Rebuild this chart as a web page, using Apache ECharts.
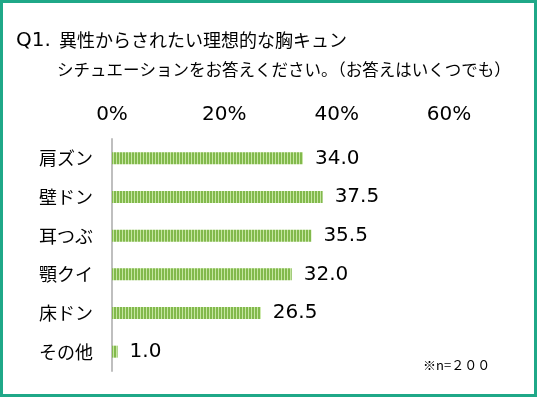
<!DOCTYPE html>
<html>
<head>
<meta charset="utf-8">
<script src="https://cdn.jsdelivr.net/npm/echarts@6/dist/echarts.min.js"></script>
<style>
  html, body { margin: 0; padding: 0; background: #fff; }
  #chart { width: 537px; height: 397px; }
</style>
</head>
<body>
<div id="chart"></div>
<script>
// データ
const categories = ['肩ズン', '壁ドン', '耳つぶ', '顎クイ', '床ドン', 'その他']
const values = [34.0, 37.5, 35.5, 32.0, 26.5, 1.0]
const tickLabels = ['0%', '20%', '40%', '60%']
const titleNo = 'Q1.'
const titleLines = ['異性からされたい理想的な胸キュン', 'シチュエーションをお答えください。（お答えはいくつでも）']
const note = '※n=２００'

const FONT = '"Noto Sans CJK JP", "Noto Sans", sans-serif'
const NUM_FONT = '"DejaVu Sans", sans-serif'

// 縦縞パターン
function stripePattern() {
  const c = document.createElement('canvas')
  c.width = 3
  c.height = 12
  const ctx = c.getContext('2d')
  ctx.fillStyle = '#82b94c'
  ctx.fillRect(0, 0, 3, 12)
  ctx.fillStyle = '#c6e6a2'
  ctx.fillRect(2, 0, 1, 12)
  return c
}

const myChart = echarts.init(document.getElementById('chart'))
const option = {
  animation: false,
  backgroundColor: '#fff',
  graphic: [
    {
      type: 'rect',
      shape: { x: 1.5, y: 1.5, width: 534, height: 394 },
      style: { fill: 'none', stroke: '#1fa888', lineWidth: 3 }
    },
    {
      type: 'text',
      left: 16,
      top: 31,
      style: { text: titleNo, font: '20px ' + NUM_FONT, fill: '#000' }
    },
    {
      type: 'text',
      left: 59,
      top: 31,
      style: { text: titleLines[0], font: '18px ' + FONT, fill: '#000' }
    },
    {
      type: 'text',
      left: 57,
      top: 61,
      style: { text: titleLines[1], font: '16.5px ' + FONT, fill: '#000' }
    },
    {
      type: 'text',
      left: 423,
      top: 359,
      style: { text: note, font: '13px ' + FONT, fill: '#000' }
    }
  ],
  grid: {
    left: 112,
    top: 139,
    width: 337,
    height: 232,
    containLabel: false
  },
  xAxis: {
    type: 'value',
    position: 'top',
    min: 0,
    max: 60,
    interval: 20,
    splitLine: { show: false },
    axisLine: { show: false },
    axisTick: { show: false },
    axisLabel: {
      margin: 14,
      fontFamily: NUM_FONT,
      fontSize: 20,
      color: '#000',
      formatter: (v) => tickLabels[v / 20]
    }
  },
  yAxis: {
    type: 'category',
    inverse: true,
    data: categories,
    axisTick: { show: false },
    axisLine: { lineStyle: { color: '#bfbfbf', width: 2 } },
    axisLabel: {
      margin: 19,
      fontFamily: FONT,
      fontSize: 18,
      color: '#000'
    }
  },
  series: [
    {
      type: 'bar',
      data: values,
      barWidth: 12,
      itemStyle: {
        color: { image: stripePattern(), repeat: 'repeat' }
      },
      label: {
        show: true,
        position: 'right',
        distance: 12,
        fontFamily: NUM_FONT,
        fontSize: 20,
        color: '#000',
        formatter: (p) => p.value.toFixed(1)
      }
    }
  ]
}
myChart.setOption(option)
</script>
</body>
</html>
